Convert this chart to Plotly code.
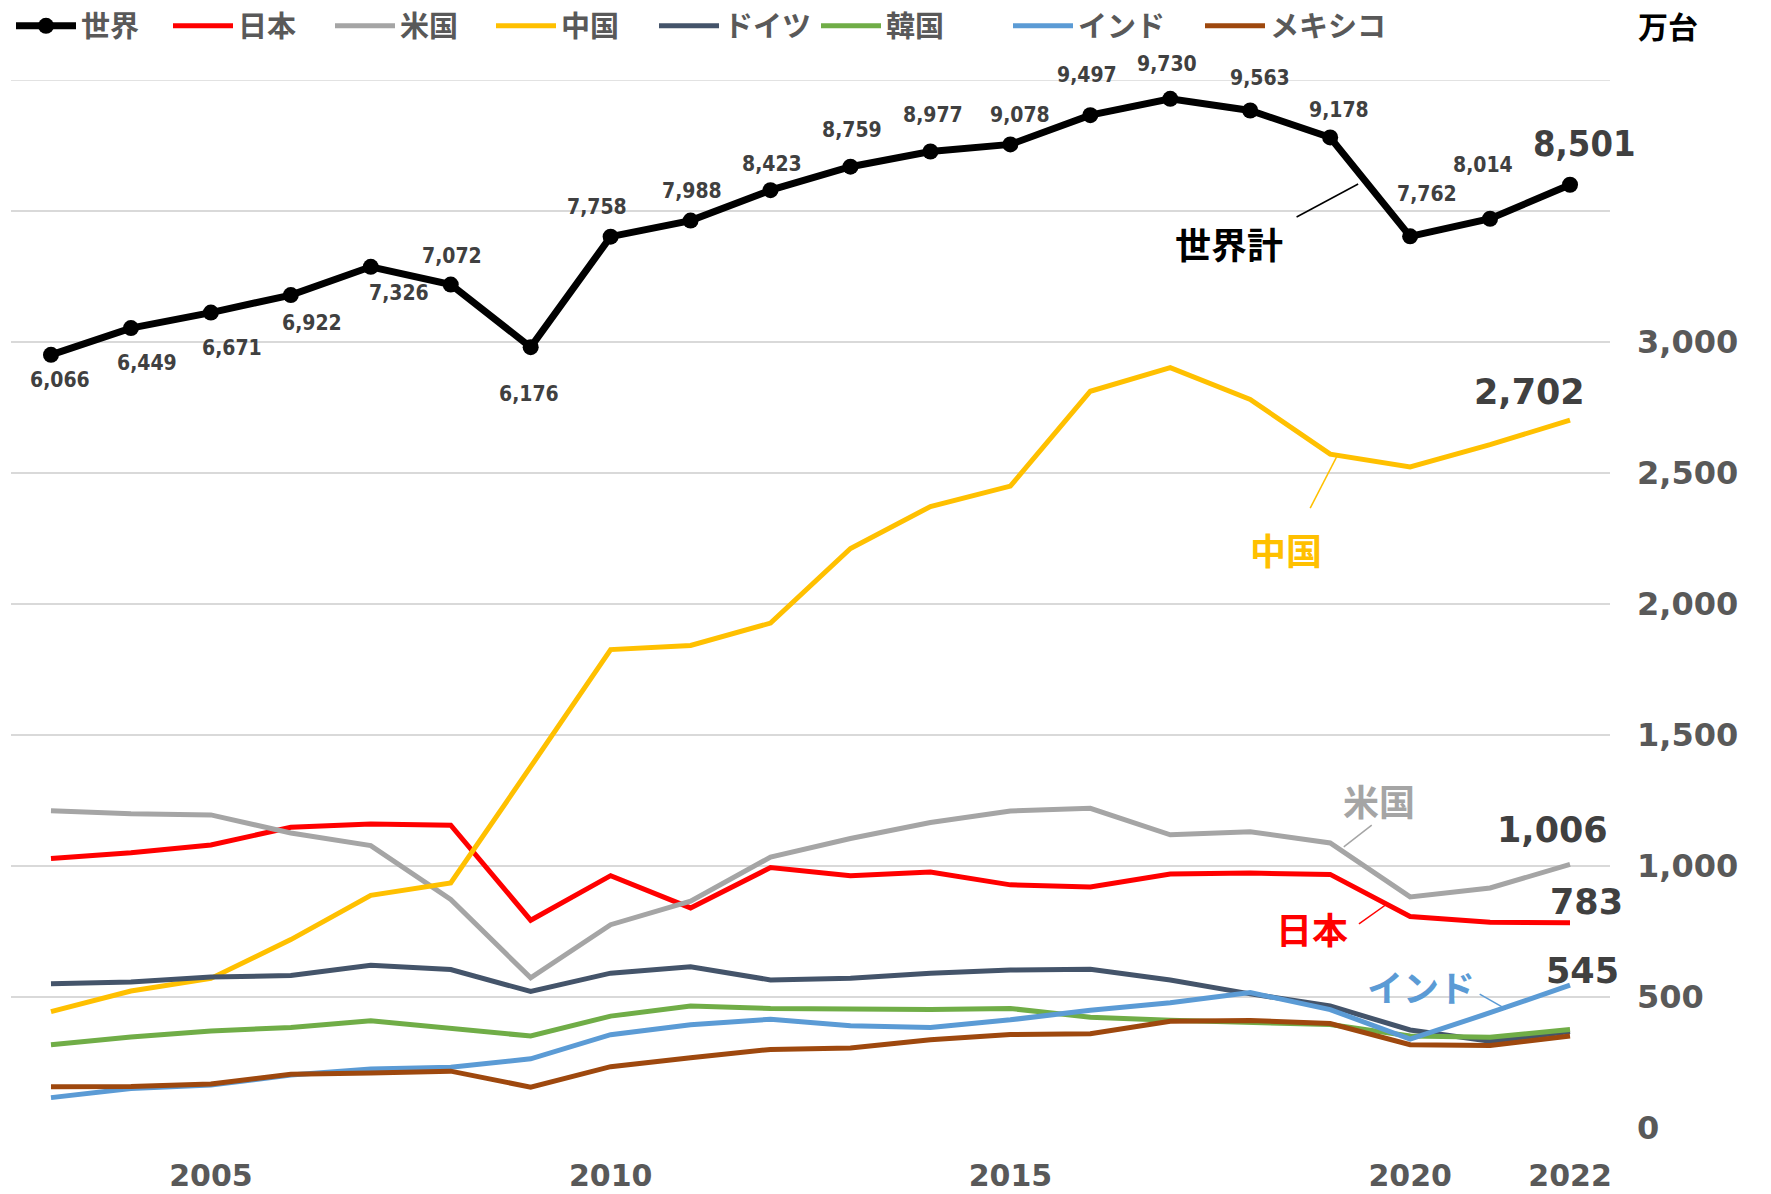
import plotly.graph_objects as go

years = list(range(2003, 2023))
world = [6066, 6449, 6671, 6922, 7326, 7072, 6176, 7758, 7988, 8423, 8759, 8977, 9078, 9497, 9730, 9563, 9178, 7762, 8014, 8501]
japan = [1029, 1051, 1080, 1148, 1160, 1156, 793, 963, 840, 994, 963, 977, 928, 920, 969, 973, 968, 807, 785, 783]
usa = [1211, 1199, 1195, 1126, 1078, 872, 573, 776, 866, 1034, 1105, 1166, 1210, 1220, 1119, 1131, 1088, 882, 916, 1006]
china = [444, 523, 571, 719, 888, 935, 1379, 1826, 1842, 1927, 2212, 2372, 2450, 2812, 2902, 2781, 2572, 2523, 2608, 2702]
germany = [551, 557, 576, 582, 621, 605, 521, 591, 615, 565, 572, 591, 603, 606, 565, 512, 466, 374, 331, 368]
korea = [318, 347, 370, 384, 409, 381, 351, 427, 466, 456, 452, 452, 456, 423, 411, 403, 395, 351, 346, 376]
india = [116, 151, 164, 202, 225, 232, 264, 356, 394, 415, 390, 384, 413, 449, 478, 517, 452, 339, 440, 545]
mexico = [157, 158, 168, 205, 210, 217, 156, 234, 268, 300, 305, 337, 357, 360, 407, 410, 399, 318, 315, 351]

series_names = ["日本", "米国", "中国", "ドイツ", "韓国", "インド", "メキシコ"]
series_values = [japan, usa, china, germany, korea, india, mexico]
series_colors = ["#FF0000", "#A5A5A5", "#FFC000", "#44546A", "#70AD47", "#5B9BD5", "#9E480E"]
legend_widths = [87, 86, 88, 87, 117, 117, 120]

y_tickvals = [0, 500, 1000, 1500, 2000, 2500, 3000, 3500, 4000]
y_ticktext = ["0", "500", "1,000", "1,500", "2,000", "2,500", "3,000", "", ""]
x_tickvals = [2005, 2010, 2015, 2020, 2022]

CJK = "Noto Sans CJK JP"
NUM = "DejaVu Sans"
COND = "DejaVu Sans Condensed, Liberation Sans Narrow, DejaVu Sans"

# page body has an 8px margin: figure is drawn 8px smaller and offset
W, H = 1763, 1186
ML, MR, MT, MB = 3, 161, 72, 66
PH = H - MT - MB
PW = W - ML - MR

fig = go.Figure()

for i, (name, vals, col, lw) in enumerate(zip(series_names, series_values, series_colors, legend_widths)):
    fig.add_trace(go.Scatter(x=years, y=vals, name=name, mode="lines",
                             line=dict(color=col, width=5), legendwidth=lw, yaxis="y",
                             legendrank=i + 2))

fig.add_trace(go.Scatter(x=years, y=world, name="世界", mode="lines+markers",
                         line=dict(color="#000000", width=7),
                         marker=dict(color="#000000", size=16),
                         legendwidth=82, yaxis="y2", legendrank=1))

annotations = []
# world labels: offsets (dx, dy) in px, dy positive = up
world_offsets = [(9, -25), (16, -35), (21, -35), (21, -28), (28, -26), (1, 29), (-2, -47),
                 (-14, 30), (1, 30), (1, 26), (2, 37), (3, 36), (10, 29), (-3, 40), (-3, 35),
                 (10, 33), (9, 27), (17, 42), (-7, 54), (14, 41)]
for yr, v, (dx, dy) in zip(years, world, world_offsets):
    big = (yr == years[-1])
    annotations.append(dict(x=yr, y=v, xref="x", yref="y2", text=f"{v:,}", showarrow=False,
                            xshift=dx, yshift=dy,
                            font=dict(family=COND, size=36 if big else 21,
                                      color="#404040", weight="bold")))

# end labels for countries
end_labels = [(china, -41, 28), (usa, -18, 34), (japan, 16, 21), (india, 12, 14)]
for vals, dx, dy in end_labels:
    annotations.append(dict(x=years[-1], y=vals[-1], xref="x", yref="y", text=f"{vals[-1]:,}",
                            showarrow=False, xshift=dx, yshift=dy,
                            font=dict(family=NUM, size=35, color="#404040", weight="bold")))

# series name labels with leader lines
name_labels = [
    ("世界計", "#000000", 2017.73, 3378, (2018.58, 3477, 2019.35, 3603)),
    ("中国", "#FFC000", 2018.45, 2210, (2018.75, 2366, 2019.10, 2573)),
    ("米国", "#A5A5A5", 2019.61, 1252, (2019.17, 1073, 2019.52, 1156)),
    ("日本", "#FF0000", 2018.77, 763, (2019.36, 779, 2019.71, 855)),
    ("インド", "#5B9BD5", 2020.14, 542, (2020.87, 511, 2021.20, 454)),
]
shapes = [dict(type="line", xref="paper", yref="y", x0=0, x1=1, y0=4000, y1=4000,
               line=dict(color="#D9D9D9", width=1.5), layer="below")]
for txt, col, x, y, (x0, y0, x1, y1) in name_labels:
    annotations.append(dict(x=x, y=y, xref="x", yref="y", text=txt, showarrow=False,
                            font=dict(family=CJK, size=36, color=col, weight="bold")))
    shapes.append(dict(type="line", xref="x", yref="y", x0=x0, y0=y0, x1=x1, y1=y1,
                       line=dict(color=col, width=1.5)))

annotations.append(dict(xref="paper", yref="paper", x=(1692 - ML) / PW, y=1 + (MT - 17) / PH,
                        yanchor="middle", text="万台", showarrow=False,
                        font=dict(family=CJK, size=30, color="#000000", weight="bold")))

fig.update_layout(
    width=W, height=H,
    margin=dict(l=ML, r=MR, t=MT, b=MB, autoexpand=False),
    paper_bgcolor="white", plot_bgcolor="white",
    showlegend=True,
    legend=dict(orientation="h", x=0, xanchor="left", y=1 + (MT - 18) / PH,
                yanchor="middle", itemwidth=60,
                font=dict(family=CJK, size=29, color="#595959", weight="bold"),
                bgcolor="rgba(0,0,0,0)", traceorder="normal"),
    xaxis=dict(range=[2002.5, 2022.5], tickvals=x_tickvals, showgrid=False, zeroline=False,
               showline=False, ticks="", ticklabelstandoff=27,
               tickfont=dict(family=NUM, size=30, color="#595959", weight="bold")),
    yaxis=dict(range=[0, 4000], tickvals=y_tickvals, ticktext=y_ticktext, side="right",
               showgrid=True, gridcolor="#D9D9D9", gridwidth=1.5, zeroline=False, showline=False,
               ticks="", ticklabelstandoff=26,
               tickfont=dict(family=NUM, size=32, color="#595959", weight="bold")),
    yaxis2=dict(range=[-5000, 10000], overlaying="y", side="right", visible=False,
                showgrid=False, zeroline=False),
    annotations=annotations,
    shapes=shapes,
)

fig.write_html("out.html")
